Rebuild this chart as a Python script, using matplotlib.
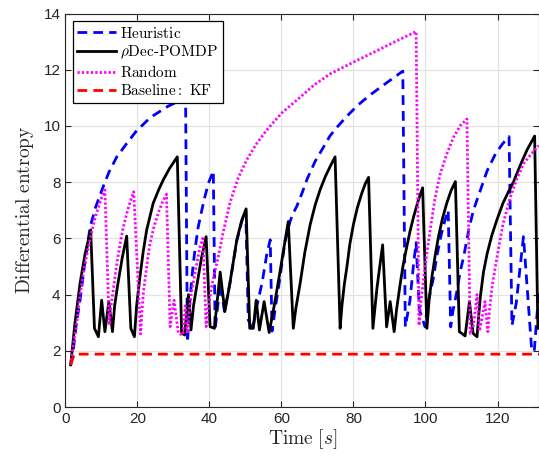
import matplotlib
matplotlib.use("Agg")
import matplotlib.pyplot as plt

# Heuristic (blue dashed)
heur_t = [1.5, 2.2, 3.0, 4.1, 5.4, 6.9, 8.4, 10.1, 12.1, 14.3, 16.9, 19.6, 23.6, 28.5, 33.4,
          33.9, 34.3, 34.6, 35.3, 36.0, 36.9, 37.9, 38.8, 39.7, 41.1,
          41.6, 43.0, 44.2, 45.7, 47.6, 49.0, 50.1, 50.8, 52.0, 53.2, 54.6, 55.9, 56.9, 57.4, 58.4,
          59.6, 61.0, 62.4, 63.3, 64.3, 65.7, 67.1, 69.4, 71.7, 73.5, 75.4, 78.2, 81.3, 84.6, 88.3,
          91.0, 93.7, 94.4, 95.7, 96.7, 97.4, 98.3,
          99.9, 100.5, 101.2, 102.2, 103.2, 104.4, 105.3, 106.3,
          107.0, 107.6, 108.7, 109.6, 110.6, 112.0, 113.3, 115.2, 117.1, 119.4, 121.3, 123.2,
          124.0, 125.2, 126.2, 127.2, 129.5, 130.2, 131.5]
heur_h = [1.5, 2.0, 2.9, 3.8, 5.1, 6.4, 7.1, 7.7, 8.35, 8.9, 9.35, 9.8, 10.3, 10.7, 11.0,
          2.3, 3.0, 3.8, 4.8, 5.6, 6.4, 7.0, 7.5, 7.95, 8.4,
          2.75, 4.4, 3.4, 4.4, 5.9, 6.6, 7.0, 3.1, 2.75, 3.6, 4.4, 5.4, 5.95, 2.7, 3.6,
          4.6, 5.9, 6.6, 6.9, 7.15, 7.6, 8.1, 8.75, 9.25, 9.65, 9.95, 10.35, 10.75, 11.1, 11.45,
          11.7, 11.95, 2.85, 3.8, 5.1, 5.85, 3.45,
          2.85, 3.6, 4.0, 4.6, 5.4, 6.15, 6.6, 7.0,
          2.85, 3.4, 4.1, 4.8, 5.35, 6.3, 7.0, 7.7, 8.4, 9.0, 9.35, 9.62,
          2.9, 3.7, 4.9, 6.06, 2.0, 2.0, 4.2]

# rhoDec-POMDP (black solid)
pomdp_t = [1.5, 2.7, 4.1, 5.5, 7.05, 8.1, 9.2, 10.1, 11.0, 12.1, 13.1, 13.7, 14.5, 15.8, 17.05,
           18.2, 19.2, 19.8, 20.7, 21.6, 22.6, 24.4, 26.0, 27.2, 29.0, 31.1,
           32.3, 33.1, 34.2, 34.9, 35.6, 36.5, 37.8, 39.1, 40.2, 41.4, 43.0,
           44.3, 45.7, 47.6, 49.0, 50.2, 51.2, 52.2, 53.0, 53.9, 55.2, 56.6, 58.0, 59.6, 61.0, 61.9,
           63.3, 64.0, 65.2, 66.5, 68.0, 69.4, 70.8, 72.2, 73.5, 74.9,
           76.3, 76.8, 77.5, 78.2, 79.0, 80.0, 81.1, 82.3, 83.3, 84.2,
           85.4, 86.5, 87.3, 88.1, 89.2, 90.2,
           91.3, 92.0, 93.0, 93.8, 94.8, 95.7, 96.7, 98.0, 99.2,
           100.4, 101.0, 101.8, 102.7, 103.6, 104.7, 105.9, 107.1, 108.3,
           109.4, 111.0, 112.2, 113.2,
           114.3, 115.2, 116.1, 117.1, 118.4, 119.8, 121.5, 123.0, 124.4, 126.3, 128.2, 130.3, 131.2]
pomdp_h = [1.5, 3.0, 4.4, 5.45, 6.3, 2.8, 2.5, 3.8, 2.68, 3.75, 2.68, 3.6, 4.3, 5.3, 6.08,
           2.8, 2.5, 3.6, 4.6, 5.5, 6.3, 7.25, 7.75, 8.08, 8.5, 8.9,
           2.65, 2.56, 4.0, 2.74, 3.6, 4.3, 5.3, 6.06, 2.86, 2.8, 4.8,
           3.4, 4.4, 5.94, 6.65, 7.05, 2.8, 2.8, 3.8, 2.74, 3.75, 2.65, 3.6, 4.8, 5.9, 6.6,
           2.8, 3.5, 4.4, 5.5, 6.5, 7.2, 7.75, 8.2, 8.55, 8.9,
           2.8, 3.6, 4.4, 5.0, 5.8, 6.5, 7.1, 7.6, 7.95, 8.17,
           2.8, 4.2, 5.0, 5.77, 2.85, 3.75,
           2.68, 3.5, 4.4, 5.05, 5.7, 6.25, 6.77, 7.35, 7.8,
           2.8, 3.8, 4.64, 5.4, 6.06, 6.7, 7.25, 7.7, 8.02,
           2.68, 2.53, 3.75, 2.62,
           2.5, 3.9, 4.8, 5.45, 6.1, 6.65, 7.25, 7.65, 8.0, 8.6, 9.15, 9.64, 2.8]

# Random (magenta dotted)
rand_t = [1.5, 2.2, 3.2, 4.0, 5.0, 6.1, 7.3, 8.2, 9.2, 10.1, 11.0,
          12.2, 12.7, 13.3, 14.2, 15.2, 16.1, 17.1, 18.0, 19.0,
          20.9, 21.3, 21.7, 22.6, 23.5, 24.6, 25.8, 27.0, 28.1,
          29.1, 30.2, 31.4, 32.6, 33.3, 33.9, 34.8, 36.0, 37.4, 38.2,
          39.1, 39.7, 40.5, 41.4, 42.4, 43.8, 45.8, 48.0, 50.4, 53.0, 55.9,
          60.0, 65.0, 69.0, 73.5, 80.0, 85.6, 90.0, 97.4,
          98.2, 98.7, 99.5, 100.3, 101.3, 102.6, 104.1, 105.9, 107.8, 109.6, 111.5,
          112.4, 113.3, 114.3, 115.0, 116.5,
          117.3, 117.8, 118.5, 119.8, 121.5, 123.5, 125.3, 127.2, 129.3, 131.4]
rand_h = [1.5, 2.2, 3.0, 3.9, 4.75, 5.5, 6.2, 6.7, 7.1, 7.45, 7.72,
          2.92, 3.6, 4.15, 5.0, 5.8, 6.4, 6.9, 7.3, 7.66,
          2.6, 3.4, 4.1, 5.0, 5.8, 6.4, 6.9, 7.3, 7.57,
          2.86, 3.8, 2.62, 2.56, 3.6, 2.62, 3.9, 4.75, 5.7, 6.0,
          2.86, 3.5, 4.2, 4.75, 5.3, 6.2, 7.3, 8.15, 8.8, 9.35, 9.85,
          10.45, 11.0, 11.45, 11.85, 12.27, 12.62, 12.9, 13.36,
          2.9, 3.7, 4.6, 5.4, 6.3, 7.4, 8.3, 9.0, 9.6, 10.0, 10.25,
          2.62, 2.9, 4.0, 2.7, 3.75,
          2.68, 3.5, 4.3, 5.3, 6.5, 7.45, 8.1, 8.65, 9.0, 9.3]

# Baseline: KF (red dashed)
kf_t = [1.5, 2.5, 131.6]
kf_h = [1.5, 1.88, 1.88]

plt.rcParams['font.family'] = ['Liberation Sans', 'DejaVu Sans']
plt.rcParams['mathtext.fontset'] = 'cm'

fig = plt.figure(figsize=(5.39, 4.57), dpi=100)
ax = fig.add_axes([0.1211, 0.1094, 0.8795, 0.861])

ax.plot(heur_t, heur_h, color='blue', ls=(0, (3.5, 2.2)), lw=2, label=r'$\mathrm{Heuristic}$')
ax.plot(pomdp_t, pomdp_h, color='black', lw=2, label=r'$\rho\text{Dec-POMDP}$')
ax.plot(rand_t, rand_h, color='magenta', ls=(0, (0.8, 0.8)), lw=2, label=r'$\mathrm{Random}$')
ax.plot(kf_t, kf_h, color='red', ls=(0, (3.5, 2.2)), lw=2, label=r'$\mathrm{Baseline:\ KF}$')

ax.set_xlim(0, 131.6)
ax.set_ylim(0, 14)
ax.set_xticks(range(0, 121, 20))
ax.set_yticks(range(0, 15, 2))
ax.grid(True, color='#e3e3e3', lw=0.9)
ax.set_axisbelow(True)
ax.tick_params(direction='in', top=True, right=True, labelsize=11, colors='#262626', length=4)
for s in ax.spines.values():
    s.set_color('#262626')

ax.set_xlabel(r'$\mathrm{Time}\ [s]$', fontsize=14, color='#262626', labelpad=1)
ax.set_ylabel(r'$\mathrm{Differential\ entropy}$', fontsize=14, color='#262626', labelpad=5)

leg = ax.legend(loc='upper left', fontsize=11, fancybox=False, framealpha=1, edgecolor='black',
                borderpad=0.3, labelspacing=0.2, handlelength=2.5, handletextpad=0.3,
                borderaxespad=0.5)
leg.get_frame().set_linewidth(0.9)

fig.savefig('out.png', dpi=100)
